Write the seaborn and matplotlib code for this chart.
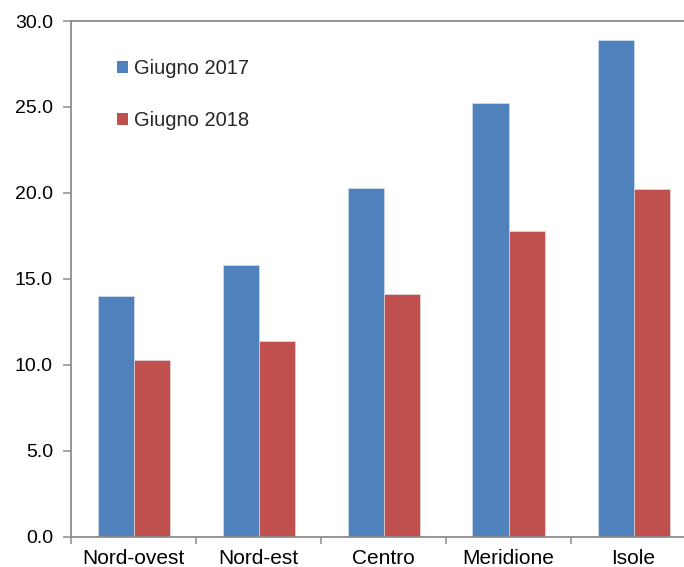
import numpy as np
import pandas as pd
import matplotlib
matplotlib.use("Agg")
import matplotlib.pyplot as plt
import seaborn as sns
from matplotlib.ticker import FormatStrFormatter, FixedLocator
from matplotlib.patches import Patch

# Data
regions = ['Nord-ovest', 'Nord-est', 'Centro', 'Meridione', 'Isole']
giugno_2017 = [14.0, 15.8, 20.3, 25.2, 28.9]
giugno_2018 = [10.3, 11.4, 14.1, 17.8, 20.2]
series = ['Giugno 2017', 'Giugno 2018']
colors = {'Giugno 2017': '#4F81BD', 'Giugno 2018': '#C0504D'}

df = pd.DataFrame({
    'region': regions * 2,
    'period': [series[0]] * len(regions) + [series[1]] * len(regions),
    'value': giugno_2017 + giugno_2018,
})

sns.set_theme(style="white")
plt.rcParams['font.family'] = ['Liberation Sans', 'DejaVu Sans']

fig = plt.figure(figsize=(6.84, 5.67), dpi=100)
ax = fig.add_axes([71 / 684, 30.5 / 567, 625 / 684, 515.5 / 567])

sns.barplot(data=df, x='region', y='value', hue='period', palette=colors,
            saturation=1, width=0.576, gap=0, edgecolor='#dfe6f0',
            linewidth=0.4, legend=False, ax=ax)

ax.set_xlim(-0.5, len(regions) - 0.5)
ax.set_ylim(0, 30)
ax.set_yticks(np.arange(0, 30.1, 5))
ax.yaxis.set_major_formatter(FormatStrFormatter('%.1f'))
ax.set_xlabel('')
ax.set_ylabel('')

# spines: gray frame
for s in ax.spines.values():
    s.set_color('#8c8c8c')
    s.set_linewidth(1.3)

ax.tick_params(axis='y', which='major', length=6, width=1.1, color='#8c8c8c',
               labelsize=14, labelcolor='black', pad=7, left=True)
ax.tick_params(axis='x', which='major', length=0, labelsize=15,
               labelcolor='black', pad=9)
ax.xaxis.set_minor_locator(FixedLocator(np.arange(-0.5, len(regions), 1.0)))
ax.tick_params(axis='x', which='minor', length=5, width=1.1,
               color='#8c8c8c', bottom=True)

handles = [Patch(facecolor=colors[s], edgecolor='none') for s in series]
ax.legend(handles, series, loc='upper left', bbox_to_anchor=(0.045, 0.962),
          frameon=False, fontsize=14.5, handlelength=0.55, handleheight=0.55,
          handletextpad=0.3, labelspacing=1.65)

fig.savefig('out.png', dpi=100)
